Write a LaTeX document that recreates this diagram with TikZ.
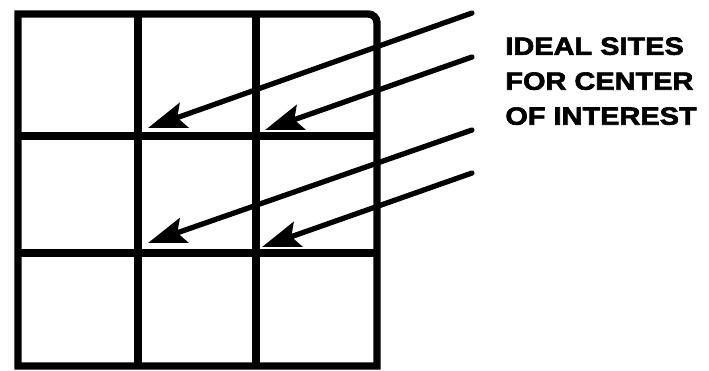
\documentclass[tikz,border=0pt]{standalone}
\usepackage{fontspec}
\newfontfamily\sitefont{Liberation Sans}[FakeStretch=1.16, BoldFeatures={FakeBold=2.5}]
\usetikzlibrary{arrows.meta}
\tikzset{
  gridline/.style={line width=4.2pt},
  siteptr/.style={line width=3pt, line cap=round,
    -{Stealth[length=0.76cm,width=0.52cm,inset=0.14cm]}},
}
\begin{document}
\begin{tikzpicture}[x=0.02cm,y=-0.02cm]
  \useasboundingbox (0,0) rectangle (709,371);
  % the frame, rounded only at the top right
  \draw[gridline] (18,366) -- (18,14) [rounded corners=5pt] -- (377,14) [sharp corners] -- (377,366) -- cycle;
  \foreach \x in {138,256} {
    \draw[gridline] (\x,14) -- (\x,366);
  }
  \foreach \y in {136,253} {
    \draw[gridline] (18,\y) -- (377,\y);
  }
  % pointers to the sites
  \coordinate (s1) at (148,128);
  \coordinate (s2) at (265,130);
  \coordinate (s3) at (148,243);
  \coordinate (s4) at (262,247);
  \foreach \k/\y in {1/13,2/57,3/130,4/173} {
    \coordinate (t\k) at (472,\y);
    \draw[siteptr] (t\k) -- (s\k);
  }
  \node[anchor=north west, inner sep=0pt, align=left,
    font=\sitefont\bfseries\fontsize{14.2}{19.9}\selectfont] (label) at (505,37)
    {IDEAL SITES\\FOR CENTER\\OF INTEREST};
\end{tikzpicture}
\end{document}
